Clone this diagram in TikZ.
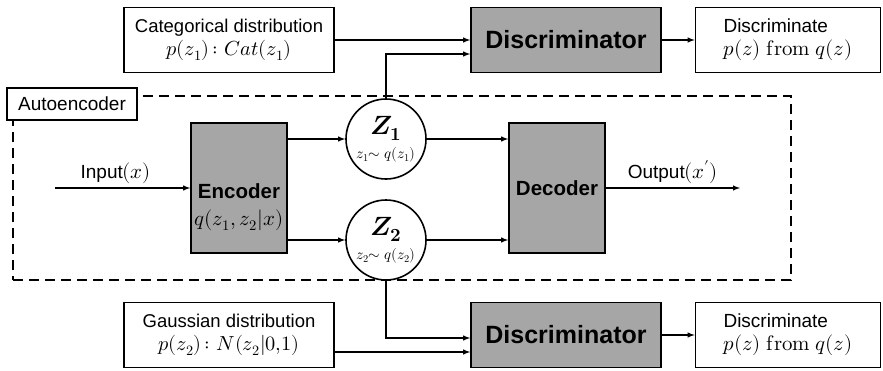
\documentclass[tikz,border=0pt]{standalone}
\usepackage{fontspec}
\usepackage{unicode-math}
\setmainfont{Liberation Sans}
\setmathfont{Latin Modern Math}[Scale=1.1]
\usetikzlibrary{calc}
\definecolor{boxgray}{RGB}{166,166,166}

\begin{document}
\begin{tikzpicture}[x=1pt,y=-1pt]
	\tikzset{>=latex}
  \tikzset{
    distbox/.style={draw,line width=1.6pt,fill=white,minimum width=210pt,minimum height=65pt,inner sep=0pt,align=center,font=\fontsize{18.5}{23}\selectfont},
    netbox/.style={draw,line width=1.6pt,fill=boxgray,minimum width=96pt,minimum height=130pt,inner sep=0pt},
    discbox/.style={draw,line width=1.6pt,fill=boxgray,minimum width=190pt,minimum height=65pt,inner sep=0pt,font=\fontsize{25}{30}\selectfont\bfseries},
    resbox/.style={draw,line width=1.6pt,fill=white,minimum width=185pt,minimum height=65pt,inner sep=0pt,align=left,font=\fontsize{19}{23}\selectfont},
    latent/.style={draw,circle,line width=1.6pt,fill=white,minimum size=80pt,inner sep=0pt,align=center},
    flow/.style={->,line width=1.4pt},
  }
  \useasboundingbox (0,0) rectangle (883,370);

  \node[draw,dashed,dash pattern=on 10pt off 6pt,line width=1.5pt,minimum width=778pt,minimum height=184pt] (ae) at (402,188) {};
  \node[draw,line width=1.6pt,fill=white,minimum width=130pt,minimum height=32pt,font=\fontsize{19}{23}\selectfont] (aelabel) at (72,104) {Autoencoder};

  \node[distbox] (cat) at (229,40) {Categorical distribution\\$p(z_1)\colon Cat(z_1)$};
  \node[discbox] (disc1) at (566,40) {Discriminator};
  \node[resbox] (res1) at (788,40) {Discriminate\\$p(z)\ \symup{from}\ q(z)$};

  \node[netbox] (enc) at (239,188) {};
  \node[align=center,font=\fontsize{19}{27}\selectfont] (enctxt) at ($(enc)+(0,19)$) {{\fontsize{20.5}{24}\selectfont\bfseries Encoder}\\$q(z_1,z_2|x)$};
  \node[netbox,font=\fontsize{20.5}{24}\selectfont\bfseries] (dec) at (557,188) {Decoder};

  \node[latent] (z1) at (386,139) {{\fontsize{24}{24}\selectfont$\symbfit{Z}_{\symbf{1}}$}\\[5pt]{\fontsize{13.5}{14}\selectfont$z_1{\sim}\; q(z_1)$}};
  \node[latent] (z2) at (386,240) {{\fontsize{24}{24}\selectfont$\symbfit{Z}_{\symbf{2}}$}\\[5pt]{\fontsize{13.5}{14}\selectfont$z_2{\sim}\; q(z_2)$}};

  \node[distbox] (gauss) at (229,335) {Gaussian distribution\\$p(z_2)\colon N(z_2|0{,}1)$};
  \node[discbox] (disc2) at (566,335) {Discriminator};
  \node[resbox] (res2) at (788,335) {Discriminate\\$p(z)\ \symup{from}\ q(z)$};

  \coordinate (in) at (55,188);
  \coordinate (out) at (740,188);

  \draw[flow] (cat.east) -- (cat.east -| disc1.west);
  \draw[flow] (z1.north) |- ($(disc1.west)+(0,14)$);
  \draw[flow] (disc1) -- (res1);

  \draw[flow] (in) -- (enc) node[pos=0.45,above,font=\fontsize{19}{23}\selectfont] {Input$(x)$};
  \draw[flow] (z1.west -| enc.east) -- (z1.west);
  \draw[flow] (z2.west -| enc.east) -- (z2.west);
  \draw[flow] (z1.east) -- (z1.east -| dec.west);
  \draw[flow] (z2.east) -- (z2.east -| dec.west);
  \draw[flow] (dec) -- (out) node[midway,above,font=\fontsize{19}{23}\selectfont] {Output$(x')$};

  \draw[flow] (z2.south) |- ($(disc2.west)+(0,3)$);
  \draw[flow] ($(gauss.east)+(0,17)$) -- ($(disc2.west)+(0,17)$);
  \draw[flow] (disc2) -- (res2);

\end{tikzpicture}
\end{document}
